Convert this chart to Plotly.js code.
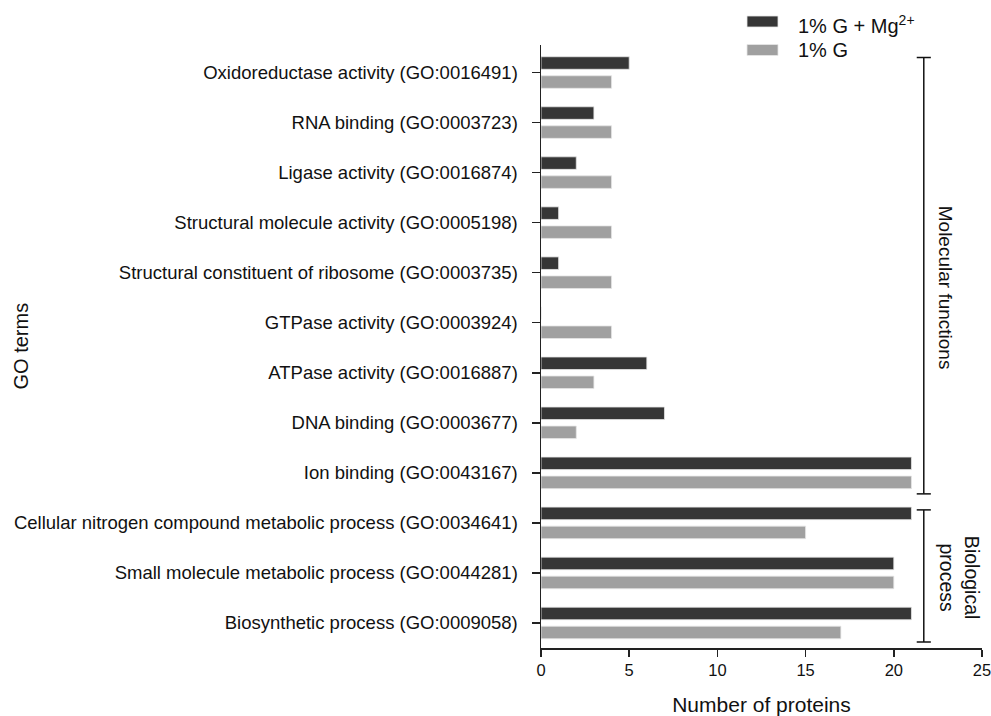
<!DOCTYPE html>
<html>
<head>
<meta charset="utf-8">
<script src="https://cdn.plot.ly/plotly-3.0.1.min.js"></script>
<style>html,body{margin:0;padding:0;background:#fff;}#chart{width:991px;height:716px;}</style>
</head>
<body>
<div id="chart"></div>
<script>
var categories = [
  "Oxidoreductase activity (GO:0016491)",
  "RNA binding (GO:0003723)",
  "Ligase activity (GO:0016874)",
  "Structural molecule activity (GO:0005198)",
  "Structural constituent of ribosome (GO:0003735)",
  "GTPase activity (GO:0003924)",
  "ATPase activity (GO:0016887)",
  "DNA binding (GO:0003677)",
  "Ion binding (GO:0043167)",
  "Cellular nitrogen compound metabolic process (GO:0034641)",
  "Small molecule metabolic process (GO:0044281)",
  "Biosynthetic process (GO:0009058)"
];
var seriesNames = ["1% G + Mg<sup>2+</sup>", "1% G"];
var seriesColors = ["#363636", "#a0a0a0"];
var withMg = [5, 3, 2, 1, 1, 0, 6, 7, 21, 21, 20, 21];
var withoutMg = [4, 4, 4, 4, 4, 4, 3, 2, 21, 15, 20, 17];
var xTicks = [0, 5, 10, 15, 20, 25];
var groupLabels = ["Molecular functions", "Biological<br>process"];
var groupSpans = [[-0.3, 8.42], [8.74, 11.38]];

var font = "Liberation Sans, Arial, sans-serif";
var traces = [
  {type: "bar", orientation: "h", name: seriesNames[0], y: categories, x: withMg, showlegend: false,
   marker: {color: seriesColors[0], line: {color: "#e6e6e6", width: 0.8}}},
  {type: "bar", orientation: "h", name: seriesNames[1], y: categories, x: withoutMg, showlegend: false,
   marker: {color: seriesColors[1], line: {color: "#e6e6e6", width: 0.8}}}
];

// plot area pixel helpers (plot spans x 541..982, y 45..648)
function px(x) { return (x - 541) / 441; }
function py(y) { return (648 - y) / 603; }

var bx = 21.7, cap = 0.4;
var shapes = [];
groupSpans.forEach(function(s) {
  shapes.push({type: "line", xref: "x", yref: "y", x0: bx, x1: bx, y0: s[0], y1: s[1], line: {color: "#111", width: 1.5}});
  shapes.push({type: "line", xref: "x", yref: "y", x0: bx - cap, x1: bx + cap, y0: s[0], y1: s[0], line: {color: "#111", width: 1.5}});
  shapes.push({type: "line", xref: "x", yref: "y", x0: bx - cap, x1: bx + cap, y0: s[1], y1: s[1], line: {color: "#111", width: 1.5}});
});

// custom legend: wide swatches like the reference
var legendRows = [21.5, 50];
seriesNames.forEach(function(n, i) {
  shapes.push({type: "rect", xref: "paper", yref: "paper", x0: px(747), x1: px(778),
               y0: py(legendRows[i] + 5.5), y1: py(legendRows[i] - 5.5),
               fillcolor: seriesColors[i], line: {color: "#e6e6e6", width: 0.8}});
});

var annotations = [
  {text: groupLabels[0], xref: "x", yref: "y", x: 22.9, y: 4.3, textangle: 90, showarrow: false,
   font: {family: font, size: 19, color: "#111"}},
  {text: groupLabels[1], xref: "x", yref: "y", x: 23.7, y: 10.08, textangle: 90, showarrow: false,
   font: {family: font, size: 19.5, color: "#111"}},
  {text: "GO terms", xref: "paper", yref: "paper", x: px(20), y: py(346.5), textangle: -90, showarrow: false,
   xanchor: "center", yanchor: "middle", font: {family: font, size: 20, color: "#111"}}
];
seriesNames.forEach(function(n, i) {
  annotations.push({text: n, xref: "paper", yref: "paper", x: px(796), y: py(legendRows[i] + (i === 0 ? 3 : 0)),
                    xanchor: "left", yanchor: "middle", showarrow: false,
                    font: {family: font, size: 20, color: "#111"}});
});

var layout = {
  width: 991, height: 716,
  margin: {l: 541, r: 9, t: 45, b: 68},
  paper_bgcolor: "#fff", plot_bgcolor: "#fff",
  font: {family: font, color: "#111"},
  barmode: "group", bargap: 0.24, bargroupgap: 0.34,
  showlegend: false,
  xaxis: {range: [0, 25], tickvals: xTicks, ticktext: xTicks.map(String), ticks: "outside", ticklen: 7, tickwidth: 1.5,
          tickcolor: "#222", showline: true, linecolor: "#222", linewidth: 1.5, showgrid: false, zeroline: false,
          ticklabeloverflow: "allow",
          tickfont: {family: font, size: 16.5, color: "#111"},
          title: {text: "Number of proteins", font: {family: font, size: 21, color: "#111"}, standoff: 24}},
  yaxis: {type: "category", categoryorder: "array", categoryarray: categories, range: [11.5, -0.55],
          ticks: "outside", ticklen: 8, tickwidth: 1.5, tickcolor: "#222", showline: true, linecolor: "#222",
          ticklabelstandoff: 10,
          linewidth: 1.5, showgrid: false, zeroline: false, tickfont: {family: font, size: 18.5, color: "#111"}},
  shapes: shapes,
  annotations: annotations
};

Plotly.newPlot("chart", traces, layout, {displayModeBar: false, staticPlot: true});
</script>
</body>
</html>
